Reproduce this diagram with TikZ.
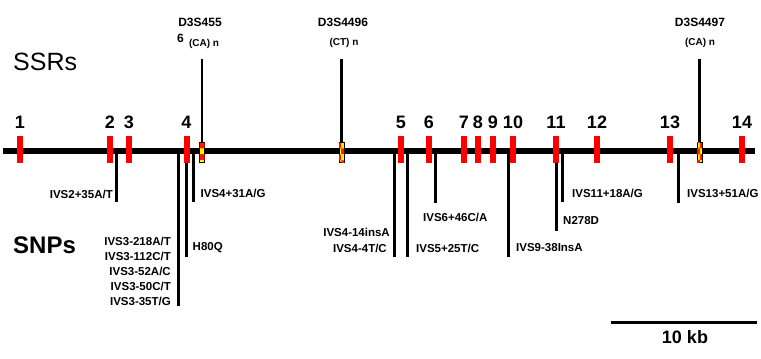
\documentclass[tikz,border=0pt]{standalone}
\usepackage{fontspec}
\setmainfont{Liberation Sans}
\usetikzlibrary{patterns}

\begin{document}
\begin{tikzpicture}[x=1pt, y=-1pt,
    exon/.style={fill=red, minimum width=6pt, minimum height=27pt, inner sep=0pt},
    exonnum/.style={font=\bfseries\fontsize{18}{18}\selectfont, inner sep=0pt},
    ssrbox/.style={draw=black, line width=0.8pt, fill=yellow, minimum width=5pt, minimum height=20pt, inner sep=0pt,
        postaction={pattern=checkerboard, pattern color=red!80!orange}},
    stem/.style={line width=3pt},
    snptext/.style={font=\bfseries\fontsize{11.5}{15}\selectfont, inner sep=0pt},
    ssrname/.style={font=\bfseries\fontsize{12}{12}\selectfont, inner sep=0pt},
    ssrrep/.style={font=\bfseries\fontsize{10}{10}\selectfont, inner sep=0pt},
    bigtext/.style={font=\fontsize{25}{25}\selectfont, inner sep=0pt}]

    \useasboundingbox (0,0) rectangle (761,359);

    % Headings
    \node[bigtext, anchor=west] (ssrs) at (13,62) {SSRs};
    \node[bigtext, font=\bfseries\fontsize{24}{24}\selectfont, anchor=west] (snps) at (13,245) {SNPs};

    % SNP stems below the gene
    \foreach \x/\b/\i in {116/202/a, 178.5/306/b, 186.5/257/c, 193.5/202/d, 394.5/257/e, 407.5/257/f,
                          435.5/203/g, 508/257/h, 556/231/i, 562.5/202/j, 678.5/203/k} {
        \coordinate (top\i) at (\x,151);
        \coordinate (bot\i) at (\x,\b);
        \draw[stem] (top\i) -- (bot\i);
    }

    % Gene line and exons
    \coordinate (gstart) at (3,151);
    \coordinate (gend) at (755,151);
    \draw[line width=6pt] (gstart) -- (gend);
    \foreach \x/\n in {20/1, 110/2, 129/3, 186.5/4, 401/5, 429/6, 464/7, 478/8, 493/9,
                       513/10, 556/11, 597/12, 670/13, 742/14} {
        \node[exon] (e\n) at (\x,149.5) {};
        \node[exonnum] (n\n) at (\x,122) {\n};
    }

    % SSR markers
    \foreach \x/\m in {202/a, 341.5/b, 699.5/c} {
        \coordinate (st\m) at (\x,59);
        \node[ssrbox] (s\m) at (\x,152) {};
        \draw[line width=2.5pt] (st\m) -- (s\m.north);
    }
    \node[ssrname] (ra) at (200,22) {D3S455};
    \node[ssrname, anchor=west] (ra2) at (177,38) {6};
    \node[ssrrep] (ca) at (204,43.5) {(CA) n};
    \node[ssrname] (rb) at (343,22) {D3S4496};
    \node[ssrrep] (cb) at (344,43) {(CT) n};
    \node[ssrname] (rc) at (700,22) {D3S4497};
    \node[ssrrep] (cc) at (700,43) {(CA) n};

    % SNP labels
    \node[snptext, anchor=east] (l1) at (113,194) {IVS2+35A/T};
    \node[snptext, anchor=east, align=right] (l2) at (171,271.5) {IVS3-218A/T\\IVS3-112C/T\\IVS3-52A/C\\IVS3-50C/T\\IVS3-35T/G};
    \node[snptext, anchor=west] (l3) at (192.5,248) {H80Q};
    \node[snptext, anchor=west] (l4) at (200.5,193) {IVS4+31A/G};
    \node[snptext, anchor=east] (l5) at (390,232) {IVS4-14insA};
    \node[snptext, anchor=east] (l6) at (387,248) {IVS4-4T/C};
    \node[snptext, anchor=west] (l7) at (416,248) {IVS5+25T/C};
    \node[snptext, anchor=west] (l8) at (423,217) {IVS6+46C/A};
    \node[snptext, anchor=west] (l9) at (516,248) {IVS9-38InsA};
    \node[snptext, anchor=west] (l10) at (563,221) {N278D};
    \node[snptext, anchor=west] (l11) at (572,193) {IVS11+18A/G};
    \node[snptext, anchor=west] (l12) at (687,193) {IVS13+51A/G};

    % Scale bar
    \coordinate (sb1) at (611,322);
    \coordinate (sb2) at (757,322);
    \draw[line width=3pt] (sb1) -- (sb2);
    \node[exonnum] (kb) at (685,337) {10 kb};

\end{tikzpicture}
\end{document}
